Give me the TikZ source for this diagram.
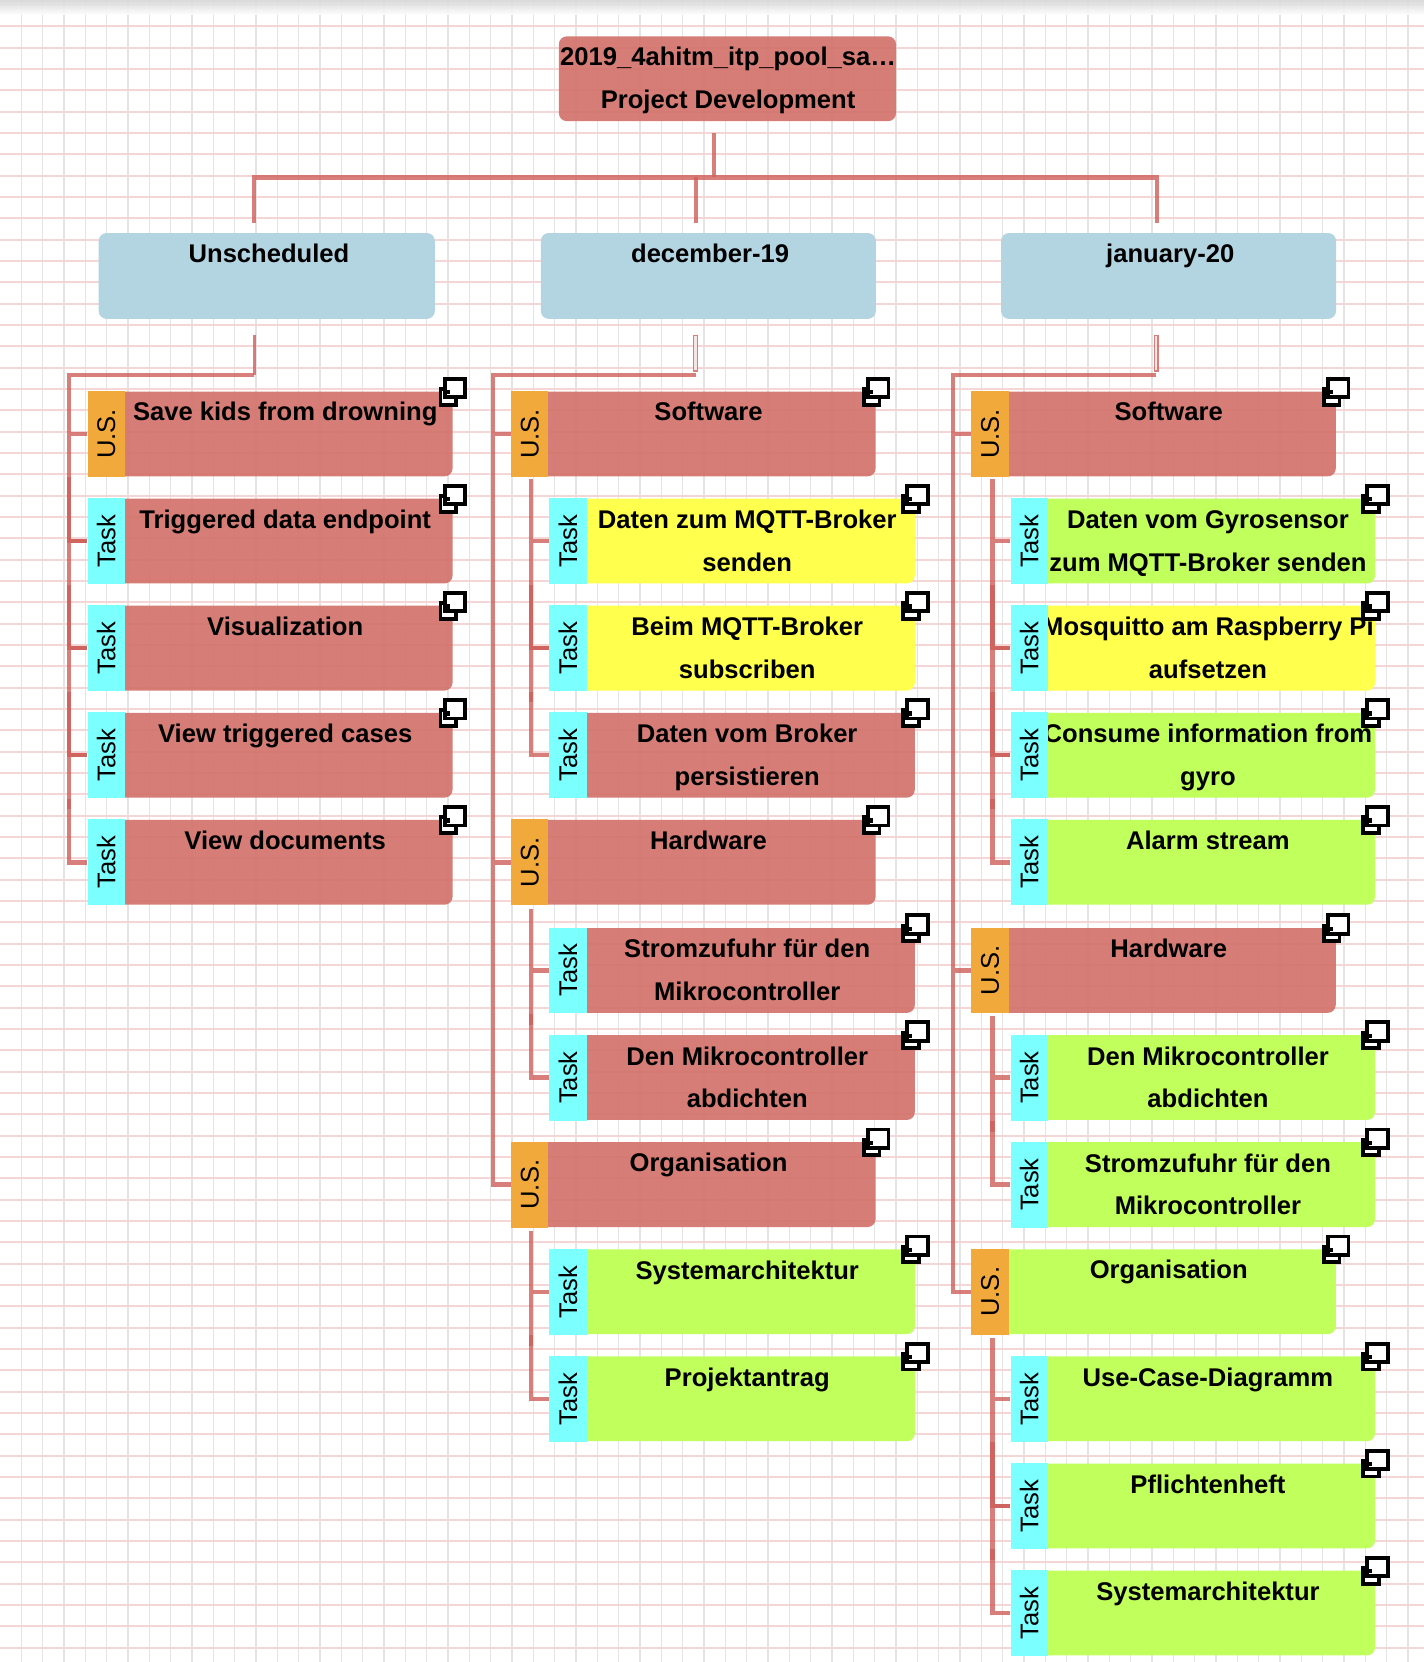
\documentclass[tikz,border=0pt]{standalone}
\usepackage{fontspec}
\usepackage{graphicx}
\usetikzlibrary{calc}
\setmainfont{Liberation Sans}
\def\u{0.53016pt}
\definecolor{cardred}{HTML}{D2746C}
\definecolor{cardyellow}{HTML}{FFFF4D}
\definecolor{cardgreen}{HTML}{C0FF5C}
\definecolor{headblue}{HTML}{B3D4E1}
\definecolor{stripus}{HTML}{F2A93B}
\definecolor{striptask}{HTML}{7BFFFF}
\definecolor{connred}{HTML}{CF5F5A}
\definecolor{gridgray}{HTML}{E4E4E4}
\definecolor{gridpink}{HTML}{F4D6D6}
\tikzset{
  x=\u, y=-\u,
  gridv/.style={draw=gridgray, line width=0.8pt},
  gridh/.style={draw=gridpink, line width=0.9pt},
  conn/.style={draw=connred, line width=2.2pt, opacity=.8, line join=miter},
  connthin/.style={draw=connred, line width=1.8pt, opacity=.8},
  hollow/.style={draw=connred, line width=2.4pt, opacity=.8},
  hollowin/.style={draw=gridpink!60!white, line width=1.1pt},
  bodybox/.style={rounded corners=4pt, inner sep=0pt, minimum height=80*\u},
  redbody/.style={fill=cardred, fill opacity=.93},
  headbox/.style={fill=headblue, rounded corners=4pt, inner sep=0pt, minimum height=81*\u, anchor=north west},
  cardtext/.style={anchor=north, inner sep=0pt, align=center, font=\fontsize{12.8pt}{21.3pt}\bfseries\selectfont},
  usstrip/.style={fill=stripus, anchor=north west, inner sep=0pt, minimum width=35.2*\u, minimum height=81*\u, font=\fontsize{12.8pt}{14pt}\selectfont},
  taskstrip/.style={fill=striptask, anchor=north west, inner sep=0pt, minimum width=35.2*\u, minimum height=81*\u, font=\fontsize{12.8pt}{14pt}\selectfont},
  iconmark/.pic={
    \draw[black, line width=1.9pt, fill=white] (-11.7,-2) rectangle (3.2,12.7);
    \draw[black, line width=1.9pt, fill=white] (-7.7,-11.7) rectangle (11.7,5.7);
    \fill[black] (-7,-1) rectangle (-3,3);
  }
}
\newcommand{\fr}{\rule{0pt}{14.84pt}}
% name, strip left, top, body right, fill options, strip style, label, text
\newcommand{\card}[8]{%
  \pgfmathsetmacro\cx{(#2+35+#4)/2-3.2}%
  \pgfmathsetmacro\bw{#4-#2-17}%
  \pgfmathsetmacro\by{#3+0.5}%
  \pgfmathsetmacro\ty{#3+\tdy}%
  \node[bodybox, #5, minimum width=\bw*\u, anchor=north east] (#1b) at (#4,\by) {};
  \node[cardtext] (#1t) at (\cx,\ty) {\fr #8};
  \node[#6] (#1) at (#2,#3) {\rotatebox{90}{#7}};
  \pic at (#1b.north east) {iconmark};
}
\newcommand{\us}[6]{\def\tdy{0}\card{#1}{#2}{#3}{#4}{#5}{usstrip}{U.S.}{#6}}
\newcommand{\task}[6]{\def\tdy{0.7}\card{#1}{#2}{#3}{#4}{#5}{taskstrip}{Task}{#6}}
\begin{document}
\begin{tikzpicture}
\useasboundingbox (0,0) rectangle (1343,1567.5);
\fill[white] (0,0) rectangle (1343,1567.5);
% grid
\foreach \k in {1,...,66} {\draw[gridv] (\k*20.12,0) -- (\k*20.12,1567.5);}
\foreach \k in {0,...,77} {\draw[gridh] (0,4.7+\k*20.12) -- (1343,4.7+\k*20.12);}
\shade[top color=black!16, bottom color=white, opacity=.9] (0,0) rectangle (1343,14);

\begin{scope}[shift={(-0.8,-0.6)}]
% root and headers
\node[fill=cardred, fill opacity=.93, rounded corners=4pt, inner sep=0pt, minimum width=318*\u, minimum height=80*\u, anchor=north west] (root) at (527.5,34.5) {};
\node[cardtext] (roott) at (687.5,34) {\fr 2019\_4ahitm\_itp\_pool\_sa…\\Project Development};
\node[headbox, minimum width=317*\u] (hu) at (93.5,220) {};
\node[cardtext] at (254.5,220) {\fr Unscheduled};
\node[headbox, minimum width=316*\u] (hd) at (510.5,220) {};
\node[cardtext] at (670.5,220) {\fr december-19};
\node[headbox, minimum width=316*\u] (hj) at (944.5,220) {};
\node[cardtext] at (1104.5,220) {\fr january-20};

% column 1
\us{a1}{83}{369}{428}{redbody}{Save kids from drowning}
\task{a2}{83}{470}{428}{redbody}{Triggered data endpoint}
\task{a3}{83}{571}{428}{redbody}{Visualization}
\task{a4}{83}{672}{428}{redbody}{View triggered cases}
\task{a5}{83}{773}{428}{redbody}{View documents}

% column 2
\us{b1}{482.5}{369}{827}{redbody}{Software}
\task{b2}{518.5}{470}{864}{fill=cardyellow}{Daten zum MQTT-Broker\\senden}
\task{b3}{518.5}{571}{864}{fill=cardyellow}{Beim MQTT-Broker\\subscriben}
\task{b4}{518.5}{672}{864}{redbody}{Daten vom Broker\\persistieren}
\us{b5}{482.5}{773}{827}{redbody}{Hardware}
\task{b6}{518.5}{875}{864}{redbody}{Stromzufuhr für den\\Mikrocontroller}
\task{b7}{518.5}{976}{864}{redbody}{Den Mikrocontroller\\abdichten}
\us{b8}{482.5}{1077}{827}{redbody}{Organisation}
\task{b9}{518.5}{1178}{864}{fill=cardgreen}{Systemarchitektur}
\task{b10}{518.5}{1279}{864}{fill=cardgreen}{Projektantrag}

% column 3
\us{c1}{916.5}{369}{1261}{redbody}{Software}
\task{c2}{953.5}{470}{1298}{fill=cardgreen}{Daten vom Gyrosensor\\zum MQTT-Broker senden}
\task{c3}{953.5}{571}{1298}{fill=cardyellow}{Mosquitto am Raspberry Pi\\aufsetzen}
\task{c4}{953.5}{672}{1298}{fill=cardgreen}{Consume information from\\gyro}
\task{c5}{953.5}{773}{1298}{fill=cardgreen}{Alarm stream}
\us{c6}{916.5}{875}{1261}{redbody}{Hardware}
\task{c7}{953.5}{976}{1298}{fill=cardgreen}{Den Mikrocontroller\\abdichten}
\task{c8}{953.5}{1077}{1298}{fill=cardgreen}{Stromzufuhr für den\\Mikrocontroller}
\us{c9}{916.5}{1178}{1261}{fill=cardgreen}{Organisation}
\task{c10}{953.5}{1279}{1298}{fill=cardgreen}{Use-Case-Diagramm}
\task{c11}{953.5}{1380}{1298}{fill=cardgreen}{Pflichtenheft}
\task{c12}{953.5}{1481}{1298}{fill=cardgreen}{Systemarchitektur}

% junction coordinates
\coordinate (rootout) at (674.3,126);
\coordinate (bus) at (674.3,168);
\coordinate (inu) at (240.3,211);
\coordinate (ind) at (657.3,211);
\coordinate (inj) at (1091.8,211);
\coordinate (outu) at (240.8,316.5);
\coordinate (outd) at (656.8,316.5);
\coordinate (outj) at (1091.3,316.5);
\coordinate (tu) at (66,354);
\coordinate (td) at (465.8,354);
\coordinate (tj) at (899.8,354);
\coordinate (juncu) at (240.8,354);
\coordinate (juncd) at (656.8,354);
\coordinate (juncj) at (1091.3,354);
\coordinate (sb1) at (501.8,452.5);
\coordinate (sb2) at (501.8,857.5);
\coordinate (sb3) at (501.8,1161.5);
\coordinate (sc1) at (936.8,452.5);
\coordinate (sc2) at (936.8,958.5);
\coordinate (sc3) at (936.8,1262.5);

% top connectors
\draw[connthin] (rootout) -- (bus);
\draw[conn] (inu) -- (inu |- bus) -- (inj |- bus) -- (inj);
\draw[conn] (ind |- bus) -- (ind);
\draw[connthin] (outu) -- (juncu);
\draw[hollow] (outd) -- ($(juncd)+(0,-3)$);
\draw[hollowin] ($(outd)+(0,1)$) -- ($(juncd)+(0,-4)$);
\draw[hollow] (outj) -- ($(juncj)+(0,-3)$);
\draw[hollowin] ($(outj)+(0,1)$) -- ($(juncj)+(0,-4)$);

% column 1 links
\draw[conn] (juncu) -- (tu) |- (a5.west) (tu) |- (a1.west) (tu) |- (a2.west) (tu) |- (a3.west) (tu) |- (a4.west);
\foreach \p/\q in {a1/a2,a2/a3,a3/a4} {\draw[conn] ($(tu |- \p.west)+(0,41)$) |- (\q.west);}
\draw[conn] ($(tu |- a4.west)+(0,41)$) -- ++(0,10);

% column 2 links
\draw[conn] (juncd) -- (td) |- (b8.west) (td) |- (b1.west) (td) |- (b5.west);
\draw[conn] (sb1) |- (b4.west) (sb1) |- (b2.west) (sb1) |- (b3.west);
\draw[conn] ($(sb1 |- b2.west)+(0,41)$) |- (b3.west);
\draw[conn] ($(sb1 |- b3.west)+(0,41)$) -- ++(0,10);
\draw[conn] (sb2) |- (b7.west) (sb2) |- (b6.west);
\draw[conn] ($(sb2 |- b6.west)+(0,41)$) -- ++(0,10);
\draw[conn] (sb3) |- (b10.west) (sb3) |- (b9.west);
\draw[conn] ($(sb3 |- b9.west)+(0,41)$) -- ++(0,10);

% column 3 links
\draw[conn] (juncj) -- (tj) |- (c9.west) (tj) |- (c1.west) (tj) |- (c6.west);
\draw[conn] (sc1) |- (c5.west) (sc1) |- (c2.west) (sc1) |- (c3.west) (sc1) |- (c4.west);
\foreach \p/\q in {c2/c3,c3/c4} {\draw[conn] ($(sc1 |- \p.west)+(0,41)$) |- (\q.west);}
\draw[conn] ($(sc1 |- c4.west)+(0,41)$) -- ++(0,10);
\draw[conn] (sc2) |- (c8.west) (sc2) |- (c7.west);
\draw[conn] ($(sc2 |- c7.west)+(0,41)$) -- ++(0,10);
\draw[conn] (sc3) |- (c12.west) (sc3) |- (c10.west) (sc3) |- (c11.west);
\draw[conn] ($(sc3 |- c10.west)+(0,41)$) |- (c11.west);
\draw[conn] ($(sc3 |- c11.west)+(0,41)$) -- ++(0,10);
\end{scope}
\end{tikzpicture}
\end{document}
